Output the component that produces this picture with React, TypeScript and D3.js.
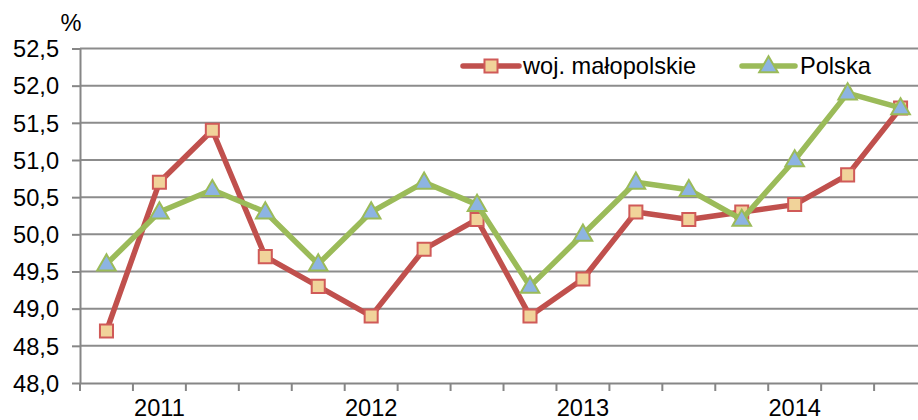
import * as d3 from "d3";
import React, { useEffect, useRef } from "react";

// kwartały 2011-2014
const quarters = [
  "I 2011", "II 2011", "III 2011", "IV 2011",
  "I 2012", "II 2012", "III 2012", "IV 2012",
  "I 2013", "II 2013", "III 2013", "IV 2013",
  "I 2014", "II 2014", "III 2014", "IV 2014",
];
const yearLabels = ["2011", "2012", "2013", "2014"];
const malopolskie = [48.7, 50.7, 51.4, 49.7, 49.3, 48.9, 49.8, 50.2, 48.9, 49.4, 50.3, 50.2, 50.3, 50.4, 50.8, 51.7];
const polska = [49.6, 50.3, 50.6, 50.3, 49.6, 50.3, 50.7, 50.4, 49.3, 50.0, 50.7, 50.6, 50.2, 51.0, 51.9, 51.7];
const yTicks = [48.0, 48.5, 49.0, 49.5, 50.0, 50.5, 51.0, 51.5, 52.0, 52.5];

const W = 918;
const H = 420;
const FONT = "'Liberation Sans', Arial, sans-serif";
const FS = "23.6px";

export default function App() {
  const ref = useRef<SVGSVGElement | null>(null);

  useEffect(() => {
    if (!ref.current) return;
    const svg = d3.select(ref.current);
    svg.selectAll("*").remove();

    const left = 80;
    const band = 52.94;
    const x = d3.scaleBand<string>()
      .domain(quarters)
      .range([left, left + band * quarters.length])
      .padding(0);
    const y = d3.scaleLinear().domain([48, 52.5]).range([383, 48.5]);
    const cx = (i: number) => (x(quarters[i]) as number) + x.bandwidth() / 2;

    // gridlines
    svg.append("g")
      .selectAll("line")
      .data(yTicks.slice(1))
      .join("line")
      .attr("x1", left)
      .attr("x2", W)
      .attr("y1", d => y(d))
      .attr("y2", d => y(d))
      .attr("stroke", "#8c8c8c")
      .attr("stroke-width", 2);

    // y axis
    const yAxis = svg.append("g").attr("transform", `translate(${left},0)`)
      .call(d3.axisLeft(y).tickValues(yTicks).tickSize(8).tickSizeOuter(0)
        .tickFormat(d => d3.format(".1f")(d as number).replace(".", ",")));
    yAxis.select(".domain").attr("stroke", "#868686").attr("stroke-width", 2);
    yAxis.selectAll(".tick line").attr("stroke", "#868686").attr("stroke-width", 2);
    yAxis.selectAll(".tick text")
      .attr("x", -21)
      .attr("dy", "0.35em")
      .attr("fill", "#000")
      .style("font-family", FONT)
      .style("font-size", FS);

    // x axis
    const xAxis = svg.append("g").attr("transform", `translate(0,${y(48)})`)
      .call(d3.axisBottom(x).tickSize(0).tickFormat(() => ""));
    xAxis.select(".domain").attr("stroke", "#868686").attr("stroke-width", 2);
    xAxis.selectAll(".tick").remove();
    xAxis.selectAll("line.sep")
      .data(d3.range(quarters.length + 1))
      .join("line")
      .attr("class", "sep")
      .attr("x1", i => left + i * band)
      .attr("x2", i => left + i * band)
      .attr("y1", 0)
      .attr("y2", 8)
      .attr("stroke", "#868686")
      .attr("stroke-width", 2);

    svg.append("g")
      .selectAll("text")
      .data(yearLabels)
      .join("text")
      .attr("x", (_, i) => cx(i * 4 + 1))
      .attr("y", 416)
      .attr("text-anchor", "middle")
      .style("font-family", FONT)
      .style("font-size", FS)
      .text(d => d);

    // jednostka
    svg.append("text")
      .attr("x", 71)
      .attr("y", 31)
      .attr("text-anchor", "middle")
      .style("font-family", FONT)
      .style("font-size", FS)
      .text("%");

    const line = d3.line<number>()
      .x((_, i) => cx(i))
      .y(d => y(d));

    const square = d3.symbol().type(d3.symbolSquare).size(170);
    const triangle = d3.symbol().type(d3.symbolTriangle).size(150);

    const series = [
      { name: "woj. małopolskie", values: malopolskie, color: "#c0504d", sym: square, fill: "#f1d39a", mstroke: "#d05a58" },
      { name: "Polska", values: polska, color: "#9bbb59", sym: triangle, fill: "#8db4e2", mstroke: "#9bbb59" },
    ];

    series.forEach(s => {
      svg.append("path")
        .datum(s.values)
        .attr("d", line)
        .attr("fill", "none")
        .attr("stroke", s.color)
        .attr("stroke-width", 5.5)
        .attr("stroke-linejoin", "round");
      svg.append("g")
        .selectAll("path")
        .data(s.values)
        .join("path")
        .attr("d", s.sym as any)
        .attr("transform", (d, i) => `translate(${cx(i)},${y(d) + (s.sym === triangle ? 1 : 0)})`)
        .attr("fill", s.fill)
        .attr("stroke", s.mstroke)
        .attr("stroke-width", 2);
    });

    // legenda
    const legendItems = [
      { x1: 463, x2: 519, tx: 523 },
      { x1: 742, x2: 795, tx: 800 },
    ];
    const lg = svg.append("g");
    series.forEach((s, i) => {
      const it = legendItems[i];
      const g = lg.append("g");
      g.append("line")
        .attr("x1", it.x1).attr("x2", it.x2)
        .attr("y1", 66).attr("y2", 66)
        .attr("stroke", s.color)
        .attr("stroke-width", 5.5)
        .attr("stroke-linecap", "round");
      g.append("path")
        .attr("d", s.sym as any)
        .attr("transform", `translate(${(it.x1 + it.x2) / 2},${66 + (s.sym === triangle ? 1 : 0)})`)
        .attr("fill", s.fill)
        .attr("stroke", s.mstroke)
        .attr("stroke-width", 2);
      g.append("text")
        .attr("x", it.tx)
        .attr("y", 74)
        .style("font-family", FONT)
        .style("font-size", FS)
        .text(s.name);
    });
  }, []);

  return (
    <svg
      ref={ref}
      width={W}
      height={H}
      style={{ position: "absolute", left: 0, top: 0, background: "#fff" }}
    />
  );
}
